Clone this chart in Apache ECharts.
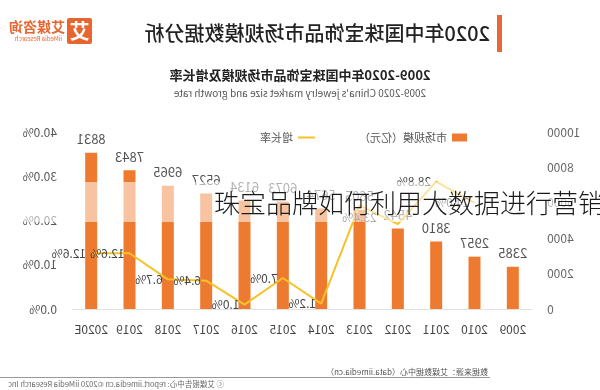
<!DOCTYPE html>
<html>
<head>
<meta charset="utf-8">
<script src="https://cdn.jsdelivr.net/npm/echarts@6/dist/echarts.min.js"></script>
<style>
  html, body { margin: 0; padding: 0; background: #fff; }
  #wrap { position: relative; width: 600px; height: 390px; transform: scaleX(-1); transform-origin: 300px 195px; overflow: hidden; font-family: "Noto Sans CJK SC", "Liberation Sans", sans-serif; }
  #chart { position: absolute; left: 0; top: 0; width: 600px; height: 390px; }
  .abs { position: absolute; white-space: nowrap; }
  #overlay { position: absolute; left: 0; top: 182px; width: 600px; height: 40px; background: rgba(255,255,255,0.55); overflow: hidden; }
  #overlay span { position: absolute; left: 214px; top: 0; line-height: 40px; font-size: 26px; font-weight: 300; color: #1a1a1a; font-family: "Noto Sans CJK SC", sans-serif; white-space: nowrap; }
</style>
</head>
<body>
<div id="wrap">
  <div id="chart"></div>
  <div class="abs" style="left:98px;top:15px;width:5px;height:37px;background:#E8683A;"></div>
  <div class="abs" style="left:110px;top:19px;font-size:20px;line-height:28px;color:#222;font-weight:500;">2020年中国珠宝饰品市场规模数据分析</div>
  <div class="abs" style="left:508px;top:18px;width:25px;height:26px;background:#E8652F;border-radius:2px;color:#fff;font-size:20px;line-height:26px;text-align:center;font-weight:700;">艾</div>
  <div class="abs" style="left:535px;top:18px;font-size:14px;line-height:16px;color:#E8652F;font-weight:700;">艾媒咨询</div>
  <div class="abs" style="left:538px;top:35px;font-size:6px;line-height:7px;color:#E8652F;">iiMedia Research</div>
  <div class="abs" style="left:112px;top:367px;font-size:8px;line-height:10px;color:#555;">数据来源：艾媒数据中心（data.iimedia.cn）</div>
  <div class="abs" style="left:110px;top:377px;width:490px;height:1px;background:#999;"></div>
  <div class="abs" style="left:376px;top:379px;font-size:7.5px;line-height:10px;color:#666;">ⓒ 艾媒报告中心: report.iimedia.cn ©2020 iiMedia Research Inc</div>
</div>
<div id="overlay"><span>珠宝品牌如何利用大数据进行营销</span></div>
<script>
const categories = ['2009','2010','2011','2012','2013','2014','2015','2016','2017','2018','2019','2020E'];
const marketSize = [2385, 2957, 3810, 4542, 5605, 5674, 6073, 6134, 6527, 6965, 7843, 8831];
const growthRate = [null, 24.0, 28.8, 19.2, 23.4, 1.2, 7.0, 1.0, 6.4, 6.7, 12.6, 12.6];
const sizeAxisTicks = [0, 2000, 4000, 6000, 8000, 10000];
const rateAxisTicks = [0, 10, 20, 30, 40];

const FONT = '"Noto Sans CJK SC", "Liberation Sans", sans-serif';
const chart = echarts.init(document.getElementById('chart'), null, {renderer: 'canvas'});

const lineData = growthRate.map(function (v, i) {
  if (categories[i] === '2013') return {value: v, label: {position: 'bottom', distance: 6}};
  if (categories[i] === '2012') return {value: v, label: {show: false}};
  return v;
});

chart.setOption({
  animation: false,
  textStyle: {fontFamily: FONT},
  title: {
    text: '2009-2020年中国珠宝饰品市场规模及增长率',
    subtext: "2009-2020 China's jewelry market size and growth rate",
    left: 'center', top: 64, itemGap: 6,
    textStyle: {fontSize: 13, fontWeight: 'bold', color: '#222', fontFamily: FONT},
    subtextStyle: {fontSize: 10, color: '#555', fontFamily: FONT}
  },
  legend: [
    {
      left: 128, top: 127, itemWidth: 15, itemHeight: 8,
      textStyle: {fontSize: 11, color: '#555', fontFamily: FONT},
      data: [{name: '市场规模（亿元）', icon: 'rect'}]
    },
    {
      left: 280, top: 127, itemWidth: 17, itemHeight: 2, itemGap: 3,
      textStyle: {fontSize: 11, color: '#555', fontFamily: FONT},
      data: [{name: '增长率', icon: 'rect'}]
    }
  ],
  grid: {left: 68, right: 72, top: 132, bottom: 81},
  xAxis: {
    type: 'category', data: categories,
    axisLine: {lineStyle: {color: '#e2e2e2'}},
    axisTick: {show: false},
    axisLabel: {interval: 0, fontSize: 12, color: '#444', margin: 14, fontFamily: FONT}
  },
  yAxis: [
    {
      type: 'value', min: sizeAxisTicks[0], max: sizeAxisTicks[sizeAxisTicks.length - 1], interval: sizeAxisTicks[1] - sizeAxisTicks[0],
      splitLine: {show: false}, axisLine: {show: false}, axisTick: {show: false},
      axisLabel: {fontSize: 12, color: '#666', margin: 15, fontFamily: FONT, formatter: function (v) { return String(v); }}
    },
    {
      type: 'value', position: 'right', min: rateAxisTicks[0], max: rateAxisTicks[rateAxisTicks.length - 1], interval: rateAxisTicks[1] - rateAxisTicks[0],
      splitLine: {show: false}, axisLine: {show: false}, axisTick: {show: false},
      axisLabel: {fontSize: 12, color: '#555', margin: 15, fontFamily: FONT, formatter: function (v) { return v.toFixed(1) + '%'; }}
    }
  ],
  series: [
    {
      name: '市场规模（亿元）', type: 'bar', yAxisIndex: 0, data: marketSize, barWidth: 12,
      itemStyle: {color: '#EE7A2F'},
      label: {show: true, position: 'top', distance: 7, fontSize: 13, color: '#555', fontFamily: FONT}
    },
    {
      name: '增长率', type: 'line', yAxisIndex: 1, data: lineData, symbol: 'circle', symbolSize: 0.1, showSymbol: true, connectNulls: false,
      lineStyle: {color: '#F6C22A', width: 2}, itemStyle: {color: '#F6C22A'},
      label: {show: true, position: 'right', distance: 5, fontSize: 12, color: '#444', fontFamily: FONT,
        formatter: function (p) { return p.value == null ? '' : Number(p.value).toFixed(1) + '%'; }},
      z: 5
    }
  ]
});
</script>
</body>
</html>
